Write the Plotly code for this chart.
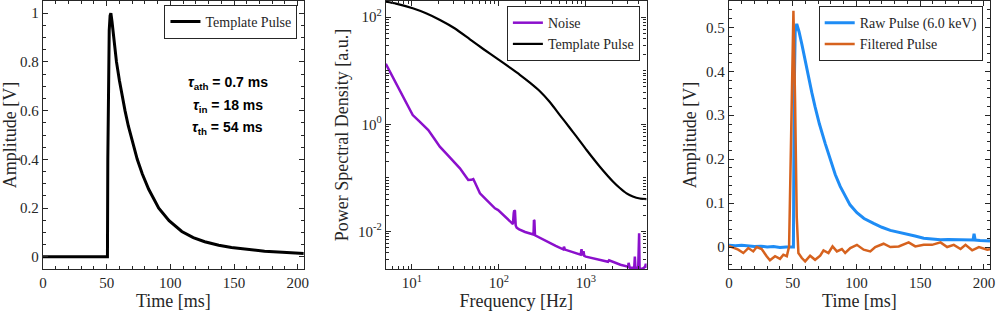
import plotly.graph_objects as go
from plotly.subplots import make_subplots

# --- panel 1: template pulse (time in ms, amplitude in V) ---
t_template = [0, 50.6, 50.9, 51.3, 52.0, 52.7, 53.3, 54.2, 55.5, 57.7, 60.0, 62.0,
              64.4, 67.0, 70.0, 74.0, 78.0, 83.0, 90.9, 99.0, 109.0, 118.0, 127.0,
              138.0, 148.0, 160.0, 174.0, 188.0, 201.0, 204.8]
a_template = [0, 0, 0.40, 0.75, 0.93, 0.99, 1.0, 0.965, 0.90, 0.80, 0.724, 0.663,
              0.60, 0.537, 0.473, 0.40, 0.34, 0.277, 0.20, 0.148, 0.104, 0.079, 0.062,
              0.0475, 0.038, 0.030, 0.023, 0.0184, 0.015, 0.014]
tau_labels = ["<i>τ</i><sub>ath</sub> = 0.7 ms",
              "<i>τ</i><sub>in</sub> = 18 ms",
              "<i>τ</i><sub>th</sub> = 54 ms"]

# --- panel 2: power spectral densities (Hz, a.u.) ---
f_noise = [5, 6, 7, 8, 10.2, 12, 15.4, 18, 20.9, 25, 30, 35.6, 40, 44.4, 48, 50.7, 53,
           60.5, 70, 80, 90, 98, 110, 125, 140, 145, 148, 150, 153, 156, 160, 171, 200,
           250, 253, 256, 260, 300, 386, 450, 548, 560, 575, 700, 870, 892, 910, 940,
           960, 1000, 1300, 1800, 1850, 2500, 3060, 3100, 3200, 3600, 3660, 3720,
           4000, 4100, 4150, 4500, 4800, 4900, 5000]
p_noise = [13.4, 7.65, 4.75, 3.16, 1.49, 1.16, 0.78, 0.546, 0.383, 0.28, 0.204, 0.151,
           0.116, 0.0915, 0.092, 0.095, 0.082, 0.0517, 0.0407, 0.0328, 0.0271, 0.0252,
           0.021, 0.0171, 0.01425, 0.0138, 0.022, 0.0248, 0.024, 0.013, 0.0118, 0.011,
           0.0098, 0.0088, 0.0164, 0.016, 0.0085, 0.0075, 0.006, 0.0054, 0.00466,
           0.0052, 0.0046, 0.00413, 0.0037, 0.0047, 0.0036, 0.0043, 0.0035, 0.0034,
           0.00308, 0.00273, 0.0029, 0.0024, 0.00221, 0.0026, 0.0021, 0.0021, 0.0034,
           0.0021, 0.0021, 0.0093, 0.0021, 0.0020, 0.0022, 0.0025, 0.0021]

f_tpl_psd = [5, 6.55, 10.2, 14.5, 21.0, 31.2, 46.4, 67.3, 98.2, 134, 174, 227, 296,
             385, 502, 655, 782, 1019, 1449, 2061, 2460, 2938, 3467, 4178, 5000]
p_tpl_psd = [194, 179, 146, 118, 88.5, 61.4, 38.5, 24.9, 16.3, 11.4, 8.4, 6.0, 4.15,
             2.61, 1.49, 0.855, 0.588, 0.332, 0.162, 0.085, 0.0649, 0.0516, 0.0451,
             0.0413, 0.0404]

# --- panel 3: raw and filtered pulse (ms, V) ---
t_raw = [0, 5, 10, 15, 20, 25, 30, 35, 40, 45, 50.3, 50.6, 51.2, 52.0, 53.2, 55, 57.2,
         60, 62.4, 65, 67.6, 71, 75.5, 79, 83.4, 87.3, 91.2, 95, 100.4, 106, 113.5,
         120, 126.6, 133, 139.8, 146, 152.8, 159, 166, 172, 179, 186, 191.5, 192.3,
         193.2, 197, 202.7, 204.8]
a_raw = [0.004, 0.003, 0.004, 0.002, 0.001, 0.002, 0.0, 0.001, -0.001, 0.0, -0.001,
         0.0, 0.35, 0.49, 0.508, 0.49, 0.462, 0.42, 0.387, 0.352, 0.319, 0.28, 0.236,
         0.204, 0.165, 0.138, 0.115, 0.096, 0.078, 0.065, 0.054, 0.045, 0.038, 0.034,
         0.030, 0.025, 0.020, 0.018, 0.0165, 0.017, 0.0165, 0.016, 0.016, 0.03, 0.016,
         0.015, 0.015, 0.014]

t_filt = [0, 0.8, 7.3, 11.3, 15.2, 19.1, 21.8, 25.7, 29.6, 32.2, 36.2, 40.1, 42.7,
          45.4, 47.2, 48.8, 50.6, 51.9, 53.2, 54.5, 57.2, 59.8, 63.7, 67.6, 71.6, 74.2,
          78.1, 81.3, 84.7, 88.6, 91.2, 95.2, 100.4, 105.7, 110.9, 114.8, 121.3,
          126.6, 133.2, 141.0, 146.2, 152.8, 159.3, 166.0, 171.2, 176.4, 181.7, 185.6,
          190.8, 196.1, 202.7, 204.8]
a_filt = [0.0, 0.0014, -0.006, -0.0136, -0.0023, -0.010, 0.0, -0.0045, -0.021, -0.030,
          -0.021, -0.027, -0.0175, -0.021, 0.001, 0.258, 0.538, 0.334, 0.069, -0.0136,
          -0.025, -0.0326, -0.0197, -0.029, -0.0197, -0.0077, -0.0136, 0.0014, -0.010,
          -0.0045, -0.0136, -0.0023, 0.005, -0.006, -0.010, 0.0, 0.0075, 0.0, 0.0014,
          0.0105, 0.0014, 0.005, 0.005, 0.0105, 0.0, 0.005, -0.0045, 0.005, -0.0075,
          0.0, -0.006, -0.005]

INK = "#262626"
SERIF = "Liberation Serif, Times New Roman, serif"

fig = make_subplots(rows=1, cols=3)

fig.add_trace(go.Scatter(x=t_template, y=a_template, mode="lines", name="Template Pulse",
                         line=dict(color="black", width=3), legend="legend"), 1, 1)

fig.add_trace(go.Scatter(x=f_noise, y=p_noise, mode="lines", name="Noise",
                         line=dict(color="#8B10CC", width=2.5), legend="legend2"), 1, 2)
fig.add_trace(go.Scatter(x=f_tpl_psd, y=p_tpl_psd, mode="lines", name="Template Pulse",
                         line=dict(color="black", width=2.2, shape="spline",
                                   smoothing=0.6), legend="legend2"), 1, 2)

fig.add_trace(go.Scatter(x=t_raw, y=a_raw, mode="lines", name="Raw Pulse (6.0 keV)",
                         line=dict(color="#1E8CF5", width=3), legend="legend3"), 1, 3)
fig.add_trace(go.Scatter(x=t_filt, y=a_filt, mode="lines", name="Filtered Pulse",
                         line=dict(color="#D6621E", width=2.5), legend="legend3"), 1, 3)

axis_style = dict(
    showline=True, linecolor=INK, linewidth=1.3, mirror="ticks",
    ticks="inside", ticklen=5, tickwidth=1, tickcolor=INK,
    showgrid=False, zeroline=False, automargin=False,
    tickfont=dict(family=SERIF, size=15, color=INK),
    title_font=dict(family=SERIF, size=18, color=INK),
)
fig.update_xaxes(**axis_style)
fig.update_yaxes(**axis_style)

# domains (plot area from x=43 to 990 px)
fig.update_layout(
    xaxis=dict(domain=[0, 0.2754], range=[0, 204.8], tickvals=[0, 50, 100, 150, 200],
               minor=dict(dtick=10, ticks="inside", ticklen=3, tickcolor=INK),
               title=dict(text="Time [ms]", standoff=4)),
    yaxis=dict(range=[-0.05, 1.05], tickvals=[0, 0.2, 0.4, 0.6, 0.8, 1],
               ticktext=["0", "0.2", "0.4", "0.6", "0.8", "1"],
               minor=dict(dtick=0.05, ticks="inside", ticklen=3, tickcolor=INK),
               title=dict(text="Amplitude [V]", standoff=4)),
    xaxis2=dict(domain=[0.362, 0.6374], type="log", range=[0.699, 3.699],
                tickvals=[10, 100, 1000],
                ticktext=["10<sup>1</sup>", "10<sup>2</sup>", "10<sup>3</sup>"],
                minor=dict(tickvals=[6, 7, 8, 9, 20, 30, 40, 50, 60, 70, 80, 90, 200, 300,
                                     400, 500, 600, 700, 800, 900, 2000, 3000, 4000],
                           ticks="inside", ticklen=3, tickcolor=INK),
                title=dict(text="Frequency [Hz]", standoff=4)),
    yaxis2=dict(type="log", range=[-2.699, 2.301], tickvals=[0.01, 1, 100],
                ticktext=["10<sup>-2</sup>", "10<sup>0</sup>", "10<sup>2</sup>"],
                minor=dict(tickvals=[0.003, 0.004, 0.005, 0.006, 0.007, 0.008, 0.009,
                                     0.02, 0.03, 0.04, 0.05, 0.06, 0.07, 0.08, 0.09,
                                     0.1, 0.2, 0.3, 0.4, 0.5, 0.6, 0.7, 0.8, 0.9,
                                     2, 3, 4, 5, 6, 7, 8, 9, 10, 20, 30, 40, 50, 60,
                                     70, 80, 90, 200],
                           ticks="inside", ticklen=3, tickcolor=INK),
                title=dict(text="Power Spectral Density [a.u.]", standoff=4)),
    xaxis3=dict(domain=[0.7243, 1.0], range=[0, 204.8], tickvals=[0, 50, 100, 150, 200],
                minor=dict(dtick=10, ticks="inside", ticklen=3, tickcolor=INK),
                title=dict(text="Time [ms]", standoff=4)),
    yaxis3=dict(range=[-0.05, 0.56], tickvals=[0, 0.1, 0.2, 0.3, 0.4, 0.5],
                ticktext=["0", "0.1", "0.2", "0.3", "0.4", "0.5"],
                minor=dict(dtick=0.02, ticks="inside", ticklen=3, tickcolor=INK),
                title=dict(text="Amplitude [V]", standoff=4)),
)

legend_style = dict(bgcolor="white", bordercolor=INK, borderwidth=1,
                    font=dict(family=SERIF, size=14, color=INK),
                    xanchor="right", yanchor="top", itemwidth=30,
                    tracegroupgap=0)
fig.update_layout(
    legend=dict(x=0.2687, y=0.985, **legend_style),
    legend2=dict(x=0.6303, y=0.981, **legend_style),
    legend3=dict(x=0.9923, y=0.981, **legend_style),
)

for label, yv in zip(tau_labels, [0.715, 0.62, 0.53]):
    fig.add_annotation(x=145, y=yv, xref="x", yref="y", text="<b>" + label + "</b>",
                       showarrow=False,
                       font=dict(family="Liberation Sans, Arial, sans-serif", size=14,
                                 color="black"))

fig.update_layout(
    width=997, height=320,
    margin=dict(l=43, r=7, t=1, b=51, autoexpand=False),
    plot_bgcolor="white", paper_bgcolor="white",
    showlegend=True,
)

# the page's default body margin would shift the figure by 8 px
fig.write_html("out.html", config={"displayModeBar": False},
               post_script="document.body.style.margin = '0';")
